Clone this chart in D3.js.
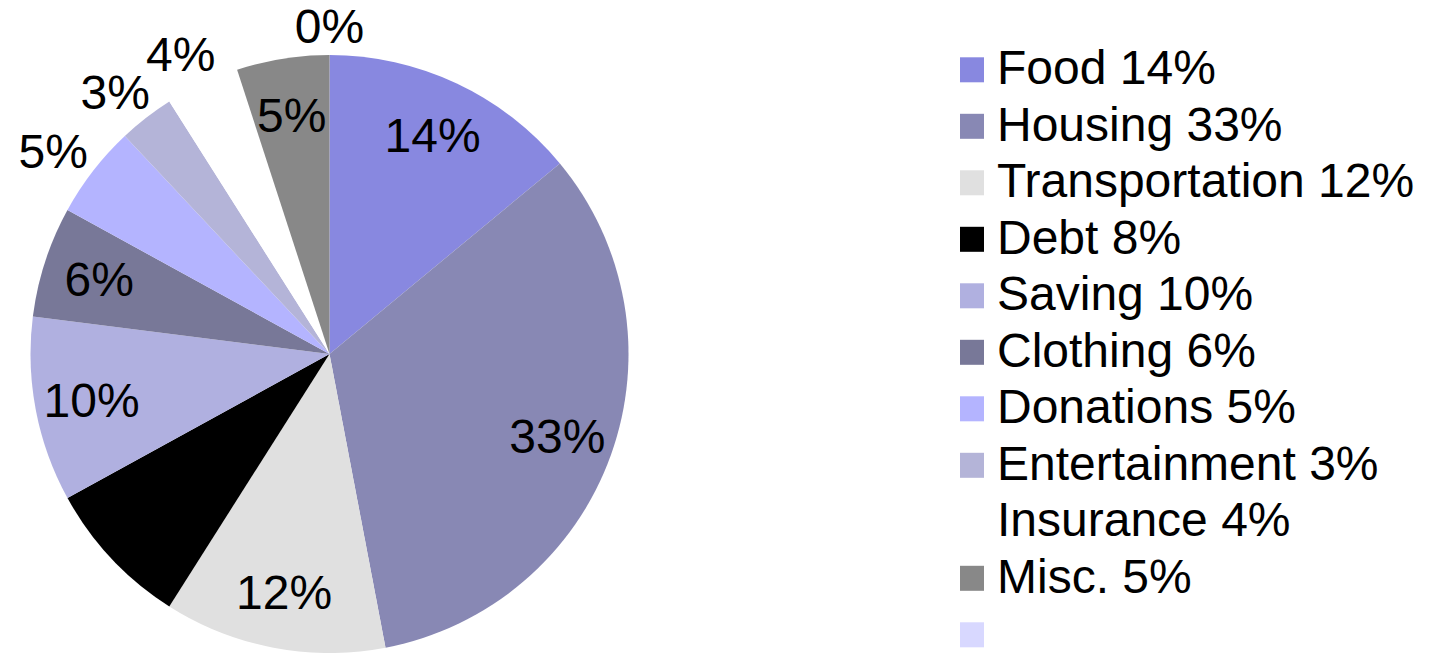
<!DOCTYPE html>
<html>
<head>
<meta charset="utf-8">
<script src="https://cdn.jsdelivr.net/npm/d3@7"></script>
<style>
  html, body { margin: 0; padding: 0; background: #ffffff; }
  svg { display: block; }
  text { font-family: "Liberation Sans", Arial, sans-serif; fill: #000; }
</style>
</head>
<body>
<svg id="chart" width="1433" height="653"></svg>
<script>
// ---- data ----
const categories = ["Food", "Housing", "Transportation", "Debt", "Saving", "Clothing",
                    "Donations", "Entertainment", "Insurance", "Misc.", ""];
const values = [14, 33, 12, 8, 10, 6, 5, 3, 4, 5, 0];
const colors = ["#8888e0", "#8888b4", "#e0e0e0", "#000000", "#b0b0e0", "#787898",
                "#b4b4ff", "#b4b4d8", "#ffffff", "#888888", "#d8d8ff"];
const outsideLabels = ["Donations", "Entertainment", "Insurance", ""];

// ---- layout ----
const W = 1433, H = 653;
const cx = 329.5, cy = 354, R = 299;
const fontSize = 48;
const svg = d3.select("#chart");

const data = categories.map((c, i) => ({ name: c, value: values[i], color: colors[i] }));
const pie = d3.pie().sort(null).value(d => d.value).startAngle(0).endAngle(2 * Math.PI);
const arcs = pie(data);
const arc = d3.arc().innerRadius(0).outerRadius(R);

const g = svg.append("g").attr("transform", `translate(${cx},${cy})`);
g.selectAll("path.slice")
  .data(arcs.filter(a => a.data.value > 0))
  .join("path")
  .attr("class", "slice")
  .attr("d", arc)
  .attr("fill", d => d.data.color);

// labels
const inR = R * 0.81;
const gap = 16;
const capH = fontSize * 0.716;
const minCenterY = -cy + 9 + capH / 2; // keep label inside the top edge
arcs.forEach(a => {
  const mid = (a.startAngle + a.endAngle) / 2;
  const ux = Math.sin(mid), uy = -Math.cos(mid);
  const t = g.append("text")
    .attr("font-size", fontSize)
    .attr("text-anchor", "middle")
    .attr("dy", "0.36em")
    .text(a.data.value + "%");
  if (outsideLabels.includes(a.data.name)) {
    const w = t.node().getComputedTextLength();
    const x = (R + gap) * ux + (w / 2) * ux;
    const y = Math.max(minCenterY, (R + gap) * uy + (capH / 2) * uy);
    t.attr("x", x).attr("y", y);
  } else {
    t.attr("x", inR * ux).attr("y", inR * uy);
  }
});

// legend
const legendX = 960, legendY0 = 69.8, legendStep = 56.5, sw = 24;
const legend = svg.append("g");
const rows = legend.selectAll("g.row").data(data).join("g")
  .attr("class", "row")
  .attr("transform", (d, i) => `translate(${legendX},${legendY0 + i * legendStep})`);
rows.append("rect")
  .attr("x", 0).attr("y", -sw / 2 - 0.5)
  .attr("width", sw).attr("height", sw + 1)
  .attr("fill", d => d.color);
rows.append("text")
  .attr("x", 37).attr("y", 14.5)
  .attr("font-size", fontSize)
  .text(d => d.name ? `${d.name} ${d.value}%` : "");
</script>
</body>
</html>
